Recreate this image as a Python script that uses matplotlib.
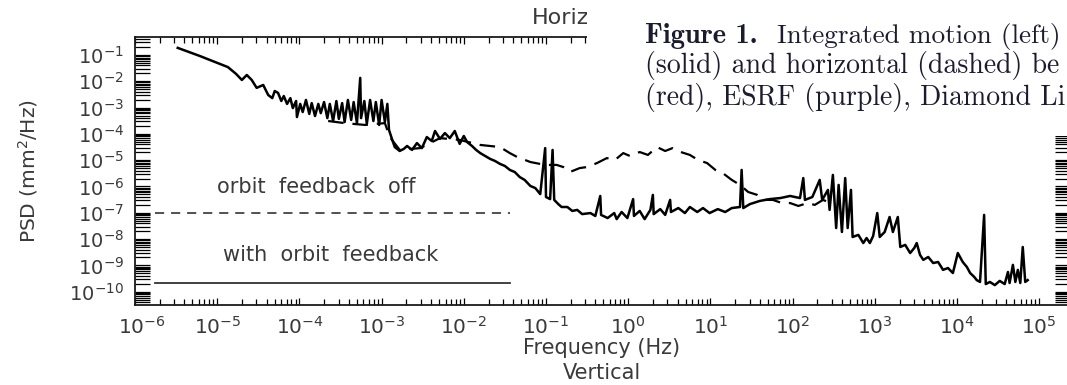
import matplotlib
matplotlib.use('Agg')
import matplotlib.pyplot as plt
import matplotlib.ticker as mticker
import matplotlib.transforms as mtransforms
from matplotlib.patches import Rectangle
import numpy as np

# vertical beam motion PSD (solid), log10(Hz) and log10(mm^2/Hz)
vert_logf = [
    -5.48, -5.21, -4.87, -4.77, -4.70, -4.64, -4.58, -4.52, -4.44, -4.38,
    -4.33, -4.30, -4.26, -4.22, -4.19, -4.15, -4.11, -4.08, -4.04, -4.03,
    -3.99, -3.96, -3.92, -3.88, -3.85, -3.81, -3.77, -3.74, -3.70, -3.66,
    -3.63, -3.59, -3.55, -3.52, -3.48, -3.45, -3.41, -3.37, -3.34, -3.30,
    -3.26, -3.25, -3.21, -3.18, -3.14, -3.10, -3.07, -3.03, -3.00, -2.96,
    -2.93, -2.91, -2.87, -2.84, -2.78, -2.73, -2.69, -2.63, -2.57, -2.51,
    -2.45, -2.39, -2.35, -2.29, -2.23, -2.17, -2.11, -2.05, -2.00, -1.96,
    -1.90, -1.85, -1.80, -1.74, -1.68, -1.62, -1.56, -1.50, -1.44, -1.38,
    -1.32, -1.26, -1.19, -1.13, -1.07, -1.01, -1.00, -0.95, -0.92, -0.90,
    -0.85, -0.81, -0.74, -0.68, -0.62, -0.56, -0.46, -0.40, -0.34, -0.33,
    -0.25, -0.17, -0.14, -0.08, -0.01, 0.06, 0.07, 0.14, 0.20, 0.27,
    0.30, 0.31, 0.39, 0.45, 0.51, 0.52, 0.61, 0.69, 0.75, 0.84,
    0.91, 0.99, 1.09, 1.18, 1.26, 1.36, 1.38, 1.40, 1.48, 1.60,
    1.72, 1.85, 1.97, 2.09, 2.13, 2.15, 2.24, 2.33, 2.36, 2.43,
    2.45, 2.49, 2.53, 2.56, 2.60, 2.64, 2.67, 2.71, 2.73, 2.80,
    2.86, 2.90, 2.94, 2.98, 3.03, 3.06, 3.12, 3.18, 3.22, 3.28,
    3.31, 3.37, 3.43, 3.48, 3.51, 3.55, 3.59, 3.65, 3.71, 3.77,
    3.83, 3.89, 3.95, 4.01, 4.07, 4.12, 4.16, 4.21, 4.24, 4.28,
    4.33, 4.35, 4.40, 4.46, 4.52, 4.58, 4.62, 4.64, 4.68, 4.71,
    4.74, 4.77, 4.80, 4.83, 4.86]
vert_logpsd = [
    -0.73, -1.04, -1.46, -1.72, -1.95, -1.76, -1.95, -2.25, -2.14, -2.52,
    -2.64, -2.37, -2.44, -2.75, -2.56, -2.86, -2.64, -3.02, -2.75, -3.36,
    -2.86, -3.17, -2.71, -3.24, -2.83, -3.32, -2.86, -3.21, -2.79, -3.40,
    -2.86, -3.51, -2.75, -3.43, -2.83, -3.55, -2.71, -3.47, -2.79, -3.59,
    -1.87, -3.40, -2.75, -3.62, -2.71, -3.51, -2.79, -3.66, -2.71, -3.55,
    -2.86, -3.85, -4.23, -4.50, -4.65, -4.57, -4.46, -4.61, -4.35, -4.54,
    -4.12, -4.27, -3.89, -4.19, -3.97, -4.16, -3.89, -4.38, -4.08, -4.31,
    -4.46, -4.61, -4.73, -4.84, -4.95, -5.03, -5.14, -5.22, -5.37, -5.45,
    -5.64, -5.75, -5.98, -6.06, -6.29, -4.54, -6.40, -6.48, -4.61, -6.51,
    -6.67, -6.78, -6.78, -6.93, -6.89, -7.05, -7.01, -7.12, -6.36, -7.08,
    -7.20, -7.01, -7.24, -6.97, -7.20, -6.48, -7.12, -6.93, -7.24, -6.89,
    -6.32, -7.05, -6.86, -7.08, -6.51, -6.97, -6.82, -7.01, -6.78, -6.97,
    -6.82, -7.01, -6.86, -6.97, -6.82, -6.78, -5.37, -6.82, -6.67, -6.55,
    -6.48, -6.44, -6.36, -6.44, -5.68, -6.51, -6.40, -5.75, -6.51, -6.13,
    -6.89, -5.56, -7.58, -5.94, -7.73, -5.68, -7.58, -6.13, -7.92, -7.84,
    -8.15, -7.96, -8.15, -7.88, -7.01, -7.92, -7.73, -7.16, -7.73, -7.16,
    -8.30, -8.22, -8.53, -8.34, -8.15, -8.60, -8.79, -8.68, -8.91, -8.87,
    -9.17, -9.10, -9.29, -8.53, -8.87, -9.06, -9.29, -9.44, -9.56, -9.63,
    -7.08, -9.71, -9.63, -9.75, -9.59, -9.71, -9.25, -9.67, -8.98, -9.63,
    -9.17, -9.67, -8.30, -9.63, -9.56]

# horizontal beam motion PSD (dashed)
horiz_logf = [
    -3.65, -3.45, -3.20, -2.96, -2.90, -2.78, -2.53, -2.29, -2.05, -1.80,
    -1.56, -1.44, -1.35, -1.19, -1.01, -0.87, -0.79, -0.71, -0.59, -0.50,
    -0.38, -0.26, -0.16, -0.06, 0.02, 0.14, 0.24, 0.35, 0.45, 0.54,
    0.64, 0.75, 0.85, 0.96, 1.06, 1.15, 1.26, 1.36, 1.46, 1.57,
    1.66, 1.76, 1.87, 1.97, 2.07, 2.18, 2.27, 2.37, 2.52]
horiz_logpsd = [
    -3.51, -3.59, -3.66, -3.59, -4.12, -4.61, -4.54, -4.16, -4.23, -4.42,
    -4.50, -4.73, -4.88, -5.07, -5.18, -5.18, -5.26, -5.45, -5.30, -5.26,
    -5.11, -4.92, -4.99, -4.73, -4.84, -4.69, -4.80, -4.50, -4.65, -4.54,
    -4.69, -4.80, -4.99, -5.11, -5.37, -5.49, -5.75, -5.94, -6.21, -6.32,
    -6.51, -6.51, -6.63, -6.63, -6.74, -6.63, -6.70, -6.51, -6.70]

# reference levels (integrated motion)
level_f = [1.74e-6, 3.63e-2]
level_off = 1.0e-7
level_fb = 2.14e-10
label_off = "orbit  feedback  off"
label_fb = "with  orbit  feedback"
label_off_pos = (1.6e-4, 9.5e-7)
label_fb_pos = (2.4e-4, 2.5e-9)

caption_lines = ["(solid) and horizontal (dashed) be",
                 "(red), ESRF (purple), Diamond Li"]

W, H = 1067, 385
fig = plt.figure(figsize=(W / 100, H / 100), dpi=100)
fig.patch.set_facecolor('white')

left, right, top, bottom = 135, 1070, 37, 305
ax = fig.add_axes([left / W, 1 - bottom / H, (right - left) / W, (bottom - top) / H])

ax.set_xscale('log')
ax.set_yscale('log')

ax.plot(10 ** np.array(vert_logf), 10 ** np.array(vert_logpsd), color='black', lw=1.8)
ax.plot(10 ** np.array(horiz_logf), 10 ** np.array(horiz_logpsd), color='black', lw=1.6,
        linestyle=(0, (7, 4)))

ax.plot(level_f, [level_off, level_off], color='#222222', lw=1.1, linestyle=(0, (6, 4.5)))
ax.plot(level_f, [level_fb, level_fb], color='#333333', lw=1.3)

txt_kw = dict(fontsize=15, color='#3a3a3a', ha='center', va='center')
ax.text(label_off_pos[0], label_off_pos[1], label_off, **txt_kw)
ax.text(label_fb_pos[0], label_fb_pos[1], label_fb, **txt_kw)

ax.set_xlim(1e-6, 2.37e5)
ax.set_ylim(3.12e-11, 0.483)

# ticks
ax.xaxis.set_major_locator(mticker.FixedLocator([10.0 ** k for k in range(-6, 6)]))
ax.xaxis.set_minor_locator(mticker.FixedLocator(
    [m * 10.0 ** k for k in range(-6, 5) for m in range(2, 10)]))
ax.xaxis.set_major_formatter(mticker.LogFormatterSciNotation())
ax.xaxis.set_minor_formatter(mticker.NullFormatter())
ax.yaxis.set_major_locator(mticker.LogLocator(base=10, numticks=30))
ax.yaxis.set_minor_locator(mticker.LogLocator(base=10, subs=np.arange(2, 10), numticks=30))
ax.yaxis.set_minor_formatter(mticker.NullFormatter())

ax.tick_params(axis='x', which='major', direction='in', length=5, width=0.9,
               top=True, bottom=True, labelsize=14.5, labelcolor='#3a3a3a', pad=8)
ax.tick_params(axis='x', which='minor', direction='in', length=4, width=0.9,
               top=True, bottom=True)
ax.tick_params(axis='y', which='both', direction='in', length=11, width=0.9,
               left=True, right=True, labelsize=14, labelcolor='#3a3a3a', pad=8)

# first frequency label sits a little right of the corner, as in the original
first = ax.xaxis.get_major_ticks()[0].label1
first.set_transform(first.get_transform() +
                    mtransforms.ScaledTranslation(7 / 100, 0, fig.dpi_scale_trans))

for s in ax.spines.values():
    s.set_linewidth(1.3)
    s.set_color('#1a1a1a')

ax.set_ylabel('PSD (mm$^2$/Hz)', fontsize=14.5, color='#3a3a3a')
ax.yaxis.set_label_coords((40 - left) / (right - left), 0.5)

fig.text(602 / W, 1 - 348 / H, 'Frequency (Hz)', fontsize=15, color='#3a3a3a',
         ha='center', va='center')
fig.text(602 / W, 1 - 373 / H, 'Vertical', fontsize=15, color='#3a3a3a',
         ha='center', va='center')
fig.text(532 / W, 1 - 18 / H, 'Horizontal', fontsize=16, color='#3a3a3a',
         ha='left', va='center')

# caption block pasted over the top right of the page
fig.patches.append(Rectangle((587 / W, 1 - 136 / H), 1 - 587 / W, 136 / H,
                             transform=fig.transFigure, facecolor='white',
                             edgecolor='none', zorder=5))
cap_col = '#1b1b30'
fig.text(645 / W, 1 - 36 / H, 'Figure 1.', fontsize=20.5, family='cmb10',
         color=cap_col, ha='left', va='center', zorder=6)
fig.text(777 / W, 1 - 36 / H, 'Integrated motion (left)', fontsize=19.6, family='cmr10',
         color=cap_col, ha='left', va='center', zorder=6)
for i, line in enumerate(caption_lines):
    fig.text(645 / W, 1 - (66 + 31 * i) / H, line, fontsize=20, family='cmr10',
             color=cap_col, ha='left', va='center', zorder=6)

fig.savefig('out.png', dpi=100, facecolor='white')
